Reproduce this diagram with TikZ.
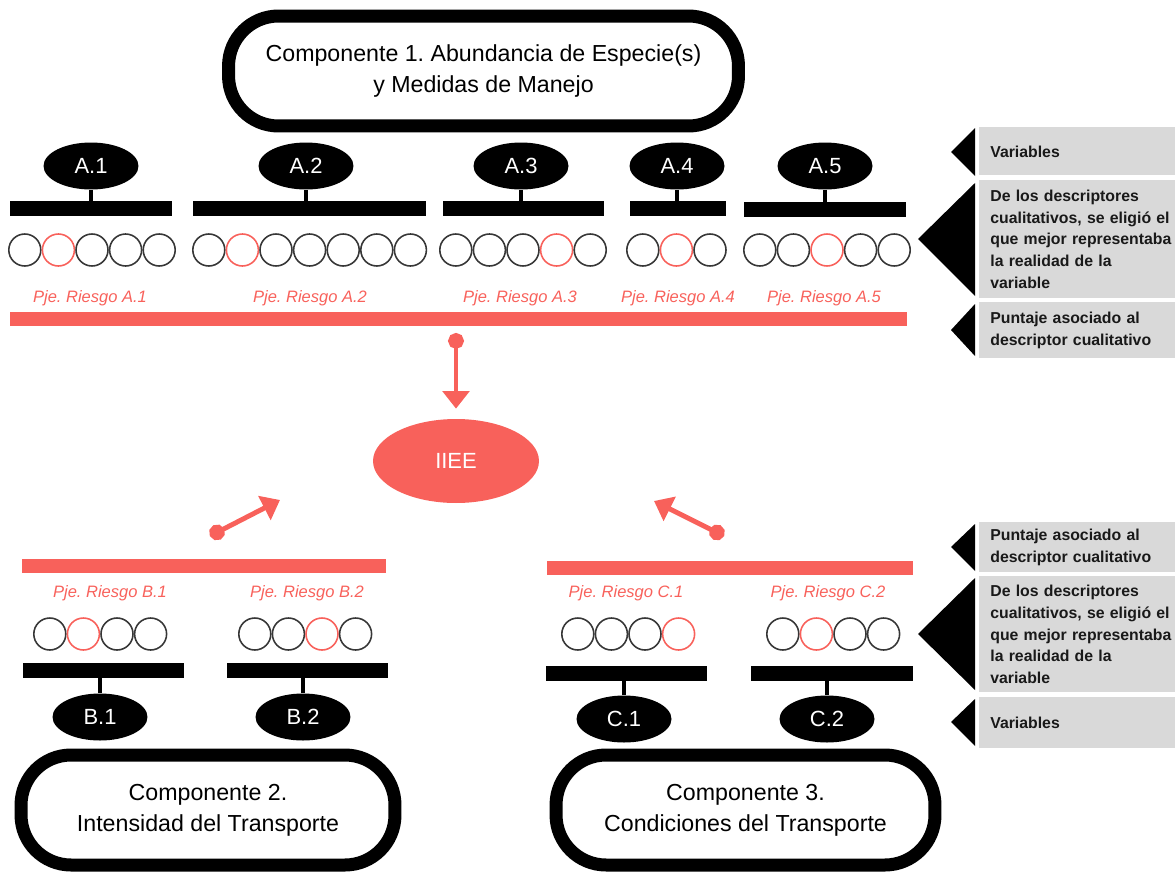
\documentclass[tikz,border=0pt]{standalone}
\usepackage{fontspec}
\setmainfont{Liberation Sans}
\usepackage{tikz}
\usetikzlibrary{shapes.geometric}
\usetikzlibrary{arrows.meta}
\definecolor{riesgo}{RGB}{248,97,91}
\definecolor{leyenda}{RGB}{217,217,217}
\definecolor{aro}{RGB}{55,55,55}
\frenchspacing

\begin{document}
\begin{tikzpicture}[x=0.02cm,y=-0.02cm]
\useasboundingbox (0,0) rectangle (1175,872);

% componentes
\begin{scope}[every node/.style={draw=black,line width=7.4pt,rounded corners=1.0cm,align=center,inner sep=0pt,
              font=\fontsize{13.2}{17.5}\selectfont}]
    \node[minimum width=10.2cm,minimum height=2.2cm] (comp1) at (483.5,71) {Componente 1. Abundancia de Especie(s)\\y Medidas de Manejo};
    \node[minimum width=7.48cm,minimum height=2.2cm] (comp2) at (208,810) {Componente 2.\\Intensidad del Transporte};
    \node[minimum width=7.58cm,minimum height=2.2cm] (comp3) at (745.5,810) {Componente 3.\\Condiciones del Transporte};
    \end{scope}

% variables
\begin{scope}[every node/.style={ellipse,fill=black,text=white,minimum width=1.9cm,minimum height=0.94cm,inner sep=0pt,
              font=\fontsize{12.5}{15}\selectfont}]
    \node (A1) at (91,166) {A.1};
    \node (A2) at (306,166) {A.2};
    \node (A3) at (521,166) {A.3};
    \node (A4) at (677,166) {A.4};
    \node (A5) at (825,166) {A.5};
    \node (B1) at (100,717) {B.1};
    \node (B2) at (303,717) {B.2};
    \node (C1) at (624,719) {C.1};
    \node (C2) at (827,719) {C.2};
    \end{scope}

\begin{scope}[every node/.style={rectangle,fill=black,minimum height=0.3cm,inner sep=0pt}]
    \node[minimum width=3.24cm] (bA1) at (91,208) {};
    \node[minimum width=4.66cm] (bA2) at (309.5,208) {};
    \node[minimum width=3.22cm] (bA3) at (523.5,208) {};
    \node[minimum width=1.92cm] (bA4) at (678,208) {};
    \node[minimum width=3.24cm] (bA5) at (825,209) {};
    \node[minimum width=3.22cm] (bB1) at (103.5,670) {};
    \node[minimum width=3.22cm] (bB2) at (307.5,670) {};
    \node[minimum width=3.22cm] (bC1) at (626.5,673) {};
    \node[minimum width=3.24cm] (bC2) at (832,673) {};
    \end{scope}

\begin{scope}[line width=2.8pt]
    \foreach \v in {A1,A2,A3,A4,A5}
        \draw (\v.south) -- (\v.south |- b\v.center);
    \foreach \v in {B1,B2,C1,C2}
        \draw (\v.north) -- (\v.north |- b\v.center);
    \end{scope}

% descriptores
\foreach \v/\x/\y/\n/\r in {A1/8/250/5/2,A2/192/250/7/2,A3/439/250/5/4,A4/626/250/3/2,A5/743/250/5/3,
                           B1/33/634/4/2,B2/238/634/4/3,C1/561/634/4/4,C2/766/634/4/2}
    \foreach \i in {1,...,\n} {
        \pgfmathsetmacro\col{ifthenelse(\i==\r,"riesgo","aro")}
        \node[circle,draw=\col,line width=0.9pt,minimum size=0.64cm,inner sep=0pt] (d\v-\i) at ({\x+16.8+33.6*(\i-1)},\y) {};
    }

% puntajes
\begin{scope}[every node/.style={text=riesgo,font=\fontsize{9.4}{11}\selectfont\itshape}]
    \node (pA1) at (90,298) {Pje. Riesgo A.1};
    \node (pA2) at (310,298) {Pje. Riesgo A.2};
    \node (pA3) at (520,298) {Pje. Riesgo A.3};
    \node (pA4) at (678,298) {Pje. Riesgo A.4};
    \node (pA5) at (824,298) {Pje. Riesgo A.5};
    \node (pB1) at (110,593) {Pje. Riesgo B.1};
    \node (pB2) at (307,593) {Pje. Riesgo B.2};
    \node (pC1) at (626,593) {Pje. Riesgo C.1};
    \node (pC2) at (828,593) {Pje. Riesgo C.2};
    \end{scope}

\begin{scope}[every node/.style={rectangle,fill=riesgo,minimum height=0.28cm,inner sep=0pt}]
    \node[minimum width=17.94cm] (rA) at (458.5,319) {};
    \node[minimum width=7.28cm] (rB) at (204,566) {};
    \node[minimum width=7.32cm] (rC) at (730,568) {};
    \end{scope}

\node[ellipse,fill=riesgo,text=white,minimum width=3.32cm,minimum height=1.68cm,inner sep=0pt,
      font=\fontsize{12.5}{15}\selectfont] (IIEE) at (456,461) {IIEE};

\coordinate (sA) at (456,333);
\coordinate (sB) at (210,536);
\coordinate (tB) at (280,500);
\coordinate (sC) at (724,536);
\coordinate (tC) at (654,501);

\begin{scope}[riesgo,line width=2.8pt,>={Triangle[width=15pt,length=10pt]}]
    \draw[{Circle[length=9pt]}->,shorten >=0.2cm] (sA) -- (IIEE);
    \draw[{Circle[length=9pt]}->] (sB) -- (tB);
    \draw[{Circle[length=9pt]}->] (sC) -- (tC);
    \end{scope}

% leyenda
\begin{scope}[every node/.style={rectangle,fill=leyenda,anchor=north west,text width=3.9cm,inner xsep=0.22cm,inner ysep=0pt,
              align=left,text=black!90,font=\fontsize{9}{12.5}\selectfont\bfseries}]
    \node[minimum height=0.96cm] (L1) at (979,127) {Variables};
    \node[minimum height=2.36cm] (L2) at (979,180) {De los descriptores\\cualitativos, se eligió el\\que mejor representaba\\la realidad de la\\variable};
    \node[minimum height=1.12cm] (L3) at (979,302) {Puntaje asociado al\\descriptor cualitativo};
    \node[minimum height=1.0cm] (L4) at (979,522) {Puntaje asociado al\\descriptor cualitativo};
    \node[minimum height=2.32cm] (L5) at (979,576) {De los descriptores\\cualitativos, se eligió el\\que mejor representaba\\la realidad de la\\variable};
    \node[minimum height=1.02cm] (L6) at (979,697) {Variables};
    \end{scope}

\fill (975,128) -- (951,152) -- (975,176) -- cycle;
\fill (975,183) -- (918,239) -- (975,296) -- cycle;
\fill (975,304) -- (951,330) -- (975,356) -- cycle;
\fill (975,524) -- (951,547) -- (975,571) -- cycle;
\fill (975,578) -- (918,634) -- (975,690) -- cycle;
\fill (975,699) -- (951,722) -- (975,746) -- cycle;

\end{tikzpicture}
\end{document}
